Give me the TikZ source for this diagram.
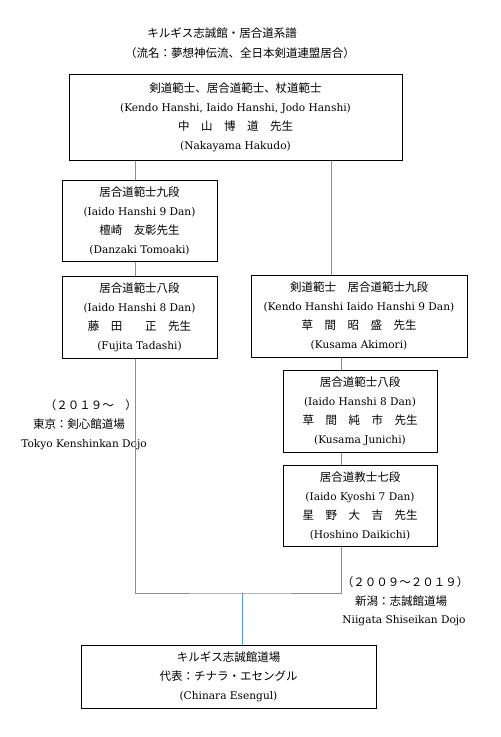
\documentclass[tikz,border=0pt]{standalone}
\usepackage{fontspec}
\setmainfont{DejaVu Serif}
\newfontfamily\jpfont{Noto Sans CJK JP}
\newcommand{\jp}[1]{{\jpfont\fontsize{11.5}{19}\selectfont #1}}
\definecolor{lineblue}{RGB}{91,155,213}
\usetikzlibrary{positioning}

\begin{document}
\begin{tikzpicture}[x=1pt,y=-1pt,
  famibox/.style={draw,line width=1pt,align=center,inner sep=0pt,font=\fontsize{10.6}{19}\selectfont},
  famline/.style={draw=lineblue,line width=1pt},
  note/.style={align=center,inner sep=0pt,font=\fontsize{10.6}{19}\selectfont}]
\useasboundingbox (0,0) rectangle (501,737);
  % title
  \node[note] (title) at (222,33) {\jp{キルギス志誠館・居合道系譜}};
  \node[note] (ryuha) at (240,53) {\jp{（流名：夢想神伝流、全日本剣道連盟居合）}};
  % boxes
  \node[famibox,minimum width=333pt,minimum height=86pt] (nakayama) at (235.5,117)
    {\jp{剣道範士、居合道範士、杖道範士}\\ (Kendo Hanshi, Iaido Hanshi, Jodo Hanshi)\\ \jp{中　山　博　道　先生}\\ (Nakayama Hakudo)};
  \node[famibox,minimum width=155pt,minimum height=81pt] (danzaki) at (139.5,220.5)
    {\jp{居合道範士九段}\\ (Iaido Hanshi 9 Dan)\\ \jp{檀崎　友彰先生}\\ (Danzaki Tomoaki)};
  \node[famibox,minimum width=155pt,minimum height=82pt,below=14pt of danzaki] (fujita)
    {\jp{居合道範士八段}\\ (Iaido Hanshi 8 Dan)\\ \jp{藤　田　　正　先生}\\ (Fujita Tadashi)};
  \node[famibox,minimum width=216pt,minimum height=82pt] (akimori) at (359,316)
    {\jp{剣道範士　居合道範士九段}\\ (Kendo Hanshi Iaido Hanshi 9 Dan)\\ \jp{草　間　昭　盛　先生}\\ (Kusama Akimori)};
  \node[famibox,minimum width=154pt,minimum height=82pt] (junichi) at (360,411)
    {\jp{居合道範士八段}\\ (Iaido Hanshi 8 Dan)\\ \jp{草　間　純　市　先生}\\ (Kusama Junichi)};
  \node[famibox,minimum width=154pt,minimum height=81pt,below=12pt of junichi] (hoshino)
    {\jp{居合道教士七段}\\ (Iaido Kyoshi 7 Dan)\\ \jp{星　野　大　吉　先生}\\ (Hoshino Daikichi)};
  \node[famibox,minimum width=295pt,minimum height=63pt] (dojo) at (228.5,676.5)
    {\jp{キルギス志誠館道場}\\ \jp{代表：チナラ・エセングル}\\ (Chinara Esengul)};
  % dojo notes
  \node[note] (tokyoyr) at (91,405) {\jp{（２０１９～　）}};
  \node[note] (tokyojp) at (79,424) {\jp{東京：剣心館道場}};
  \node[note] (tokyoen) at (84,445) {Tokyo Kenshinkan Dojo};
  \node[note] (niigatayr) at (405,582) {\jp{（２００９～２０１９）}};
  \node[note] (niigatajp) at (401,601) {\jp{新潟：志誠館道場}};
  \node[note] (niigataen) at (404,621) {Niigata Shiseikan Dojo};
  % lines
  \coordinate (jn) at (242,593);
  \draw[famline] ([xshift=-4.5pt]danzaki.north) -- ([xshift=-4.5pt]danzaki.north |- nakayama.south);
  \draw[famline] ([xshift=-4.5pt]fujita.north) -- ([xshift=-4.5pt]danzaki.south);
  \draw[famline] ([xshift=-28pt]akimori.north) -- ([xshift=-28pt]akimori.north |- nakayama.south);
  \draw[famline] ([xshift=-19pt]junichi.north) -- ([xshift=-19pt]junichi.north |- akimori.south);
  \draw[famline] ([xshift=-19pt]hoshino.north) -- ([xshift=-19pt]junichi.south);
  \draw[famline] ([xshift=-4.5pt]fujita.south) |- (jn) -| ([xshift=-19pt]hoshino.south);
  \draw[famline] (jn) -- (jn |- dojo.north);
\end{tikzpicture}
\end{document}
